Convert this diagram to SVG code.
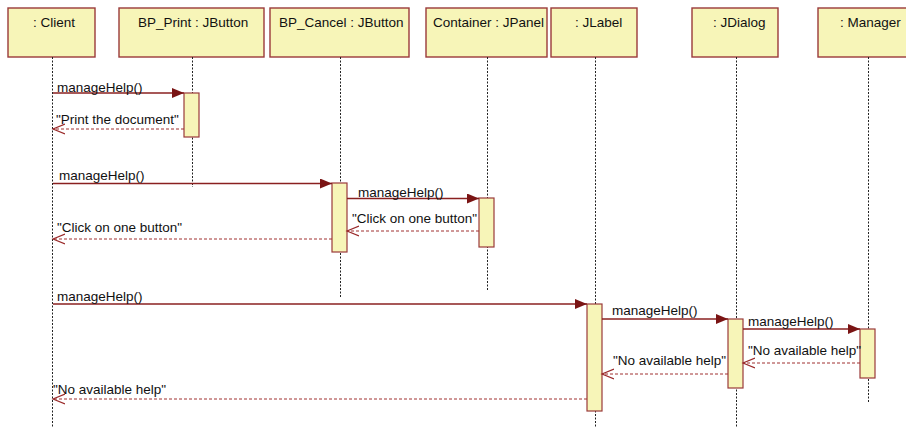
<svg xmlns="http://www.w3.org/2000/svg" width="906" height="428" viewBox="0 0 906 428">
<style>
.box{fill:#F7F5B8;stroke:#9A3A3A;stroke-width:1.4}
.act{fill:#F7F5B8;stroke:#9A3A3A;stroke-width:1.2}
.life{stroke:#222;stroke-width:1;stroke-dasharray:2,1.5;fill:none}
.t{font-family:"Liberation Sans",Arial,sans-serif;font-size:13.5px;fill:#111}
.msg{stroke:#8A2020;stroke-width:1.3;fill:none}
.ret{stroke:#A03030;stroke-width:1;stroke-dasharray:3,2;fill:none}
</style>
<defs>
<marker id="solid" markerWidth="14" markerHeight="12" refX="12" refY="5" orient="auto" markerUnits="userSpaceOnUse">
<path d="M0,0 L12,5 L0,10 Z" fill="#7A1414"/>
</marker>
<marker id="open" markerWidth="14" markerHeight="12" refX="12" refY="5.5" orient="auto" markerUnits="userSpaceOnUse">
<path d="M0,0.5 L12,5.5 L0,10.5" fill="none" stroke="#9A2A2A" stroke-width="1.2"/>
</marker>
</defs>
<rect width="906" height="428" fill="#fff"/>

<g id="client">
<rect class="box" x="8" y="8" width="87" height="49"/>
<text class="t" x="33" y="27">: Client</text>
<line class="life" x1="52.5" y1="57" x2="52.5" y2="428"/>
</g>
<g id="bp_print">
<rect class="box" x="119" y="8" width="145" height="49"/>
<text class="t" x="138" y="27">BP_Print : JButton</text>
<line class="life" x1="192.5" y1="57" x2="192.5" y2="187"/>
<rect class="act" x="184" y="93" width="15" height="44"/>
</g>
<g id="bp_cancel">
<rect class="box" x="270" y="8" width="139" height="49"/>
<text class="t" x="279" y="27">BP_Cancel : JButton</text>
<line class="life" x1="340.5" y1="57" x2="340.5" y2="297"/>
<rect class="act" x="332" y="183" width="15" height="69"/>
</g>
<g id="container">
<rect class="box" x="426" y="8" width="121" height="49"/>
<text class="t" x="433" y="27">Container : JPanel</text>
<line class="life" x1="487.5" y1="57" x2="487.5" y2="290"/>
<rect class="act" x="479" y="198" width="15" height="49"/>
</g>
<g id="jlabel">
<rect class="box" x="551" y="8" width="86" height="49"/>
<text class="t" x="575" y="27">: JLabel</text>
<line class="life" x1="595.5" y1="57" x2="595.5" y2="428"/>
<rect class="act" x="587" y="304" width="15" height="107"/>
</g>
<g id="jdialog">
<rect class="box" x="692" y="8" width="86" height="49"/>
<text class="t" x="713" y="27">: JDialog</text>
<line class="life" x1="736.5" y1="57" x2="736.5" y2="428"/>
<rect class="act" x="728" y="319" width="15" height="69"/>
</g>
<g id="manager">
<rect class="box" x="818" y="8" width="100" height="49"/>
<text class="t" x="840" y="27">: Manager</text>
<line class="life" x1="868.5" y1="57" x2="868.5" y2="403"/>
<rect class="act" x="860" y="329" width="15" height="49"/>
</g>

<g id="connectors">
<line class="msg" x1="53" y1="93" x2="184" y2="93" marker-end="url(#solid)"/>
<text class="t" x="57" y="92">manageHelp()</text>
<line class="ret" x1="184" y1="129" x2="53" y2="129" marker-end="url(#open)"/>
<text class="t" x="56" y="124">"Print the document"</text>

<line class="msg" x1="53" y1="183.5" x2="332" y2="183.5" marker-end="url(#solid)"/>
<text class="t" x="59" y="180">manageHelp()</text>
<line class="msg" x1="347" y1="198.5" x2="479" y2="198.5" marker-end="url(#solid)"/>
<text class="t" x="358" y="197">manageHelp()</text>
<line class="ret" x1="479" y1="231" x2="347" y2="231" marker-end="url(#open)"/>
<text class="t" x="352" y="223">"Click on one button"</text>
<line class="ret" x1="332" y1="239" x2="53" y2="239" marker-end="url(#open)"/>
<text class="t" x="57" y="232">"Click on one button"</text>

<line class="msg" x1="53" y1="304" x2="587" y2="304" marker-end="url(#solid)"/>
<text class="t" x="57" y="301">manageHelp()</text>
<line class="msg" x1="602" y1="319" x2="728" y2="319" marker-end="url(#solid)"/>
<text class="t" x="612" y="315">manageHelp()</text>
<line class="msg" x1="743" y1="329" x2="860" y2="329" marker-end="url(#solid)"/>
<text class="t" x="748" y="326">manageHelp()</text>
<line class="ret" x1="860" y1="363" x2="743" y2="363" marker-end="url(#open)"/>
<text class="t" x="748" y="355">"No available help"</text>
<line class="ret" x1="728" y1="374" x2="602" y2="374" marker-end="url(#open)"/>
<text class="t" x="613" y="365">"No available help"</text>
<line class="ret" x1="587" y1="399" x2="53" y2="399" marker-end="url(#open)"/>
<text class="t" x="53" y="394">"No available help"</text>
</g>
</svg>
